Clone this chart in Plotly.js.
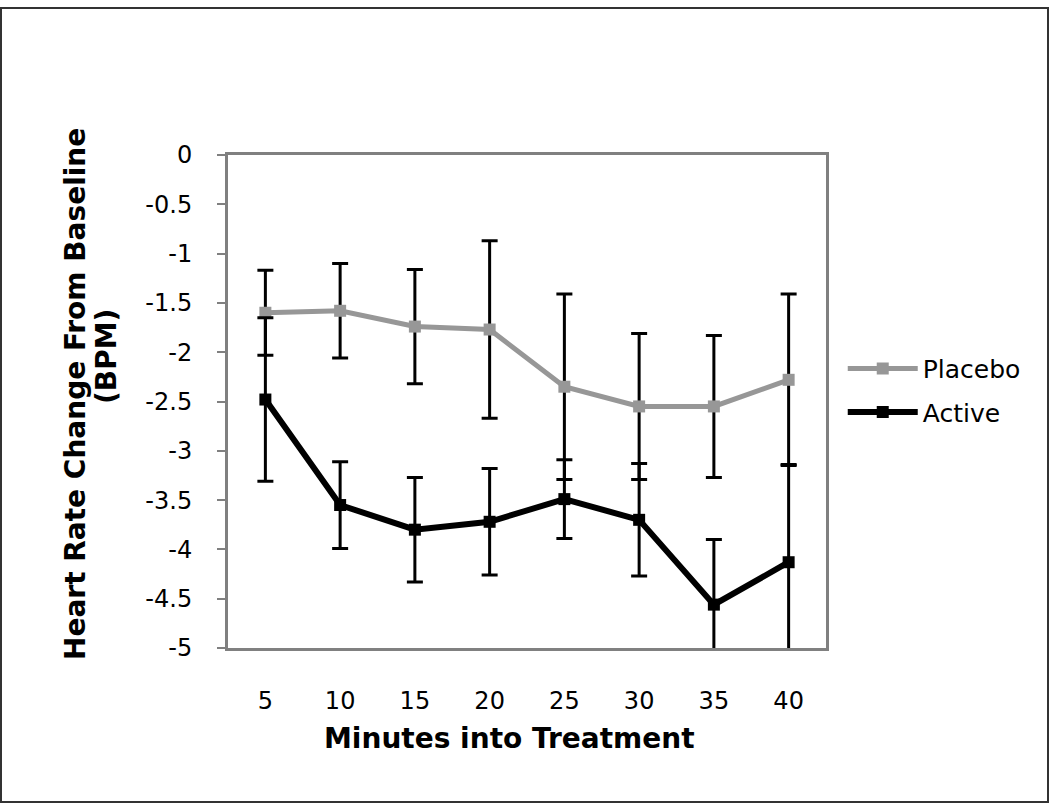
<!DOCTYPE html>
<html>
<head>
<meta charset="utf-8">
<script src="https://cdn.plot.ly/plotly-3.0.1.min.js"></script>
<style>
  html, body { margin: 0; padding: 0; background: #fff; }
  #plot { position: absolute; left: 0; top: 0; width: 1050px; height: 803px; }
  #frame { position: absolute; left: 0; top: 7px; width: 1049px; height: 796px; box-sizing: border-box; border: 2px solid #333; pointer-events: none; }
</style>
</head>
<body>
<div id="plot"></div>
<div id="frame"></div>
<script>
// Data
const minutes = ["5", "10", "15", "20", "25", "30", "35", "40"];
const placebo = [-1.60, -1.58, -1.74, -1.77, -2.35, -2.55, -2.55, -2.28];
const placeboErr = [0.43, 0.48, 0.58, 0.90, 0.94, 0.74, 0.72, 0.87];
const active = [-2.48, -3.55, -3.80, -3.72, -3.49, -3.70, -4.56, -4.13];
const activeErr = [0.83, 0.44, 0.53, 0.54, 0.40, 0.57, 0.66, 0.99];
const yTickVals = [0, -0.5, -1, -1.5, -2, -2.5, -3, -3.5, -4, -4.5, -5];
const yTickText = ["0", "-0.5", "-1", "-1.5", "-2", "-2.5", "-3", "-3.5", "-4", "-4.5", "-5"];
const xTitle = "Minutes into Treatment";
const yTitleLines = ["Heart Rate Change From Baseline", "(BPM)"];

const FONT = "DejaVu Sans, Verdana, sans-serif";

const traces = [
  {
    x: minutes, y: placebo, name: "Placebo", type: "scatter", mode: "lines+markers",
    legendgroup: "p",
    line: { color: "#979797", width: 5 },
    marker: { symbol: "square", size: 12, color: "#979797" },
    error_y: { type: "data", array: placeboErr, visible: true, color: "#000", thickness: 3, width: 8 }
  },
  {
    x: minutes, y: active, name: "Active", type: "scatter", mode: "lines+markers",
    legendgroup: "a",
    line: { color: "#000", width: 6 },
    marker: { symbol: "square", size: 12, color: "#000" },
    error_y: { type: "data", array: activeErr, visible: true, color: "#000", thickness: 3, width: 8 }
  }
];

const titleFont = { family: FONT, color: "#000", weight: "bold" };

const layout = {
  width: 1050, height: 803,
  margin: { l: 228, r: 224, t: 155, b: 155 },
  paper_bgcolor: "#fff", plot_bgcolor: "#fff",
  font: { family: FONT, color: "#000", size: 24 },
  showlegend: true,
  legend: {
    x: 1.028, y: 0.613, xanchor: "left", yanchor: "top",
    font: { family: FONT, size: 25, color: "#000" },
    bgcolor: "rgba(0,0,0,0)", traceorder: "grouped", tracegroupgap: 8,
    itemwidth: 70
  },
  xaxis: {
    type: "category",
    range: [-0.5, 7.5],
    showgrid: false, zeroline: false,
    showline: true, mirror: true, linecolor: "#808080", linewidth: 3,
    ticks: "", ticklabelstandoff: 29,
    tickfont: { family: FONT, size: 24, color: "#000" }
  },
  yaxis: {
    range: [-5, 0],
    tickvals: yTickVals, ticktext: yTickText,
    showgrid: false, zeroline: false,
    showline: true, mirror: true, linecolor: "#808080", linewidth: 3,
    ticks: "outside", ticklen: 8, tickwidth: 2, tickcolor: "#808080",
    ticklabelstandoff: 20,
    tickfont: { family: FONT, size: 24, color: "#000" }
  },
  annotations: [
    { text: xTitle, xref: "paper", yref: "paper", x: (509 - 228) / 598, y: -(738 - 648) / 493,
      xanchor: "center", yanchor: "middle", showarrow: false, font: Object.assign({ size: 28 }, titleFont) },
    { text: yTitleLines[0], xref: "paper", yref: "paper", x: (75 - 228) / 598, y: 1 - (394 - 155) / 493,
      xanchor: "center", yanchor: "middle", textangle: -90, showarrow: false, font: Object.assign({ size: 28 }, titleFont) },
    { text: yTitleLines[1], xref: "paper", yref: "paper", x: (106 - 228) / 598, y: 1 - (357 - 155) / 493,
      xanchor: "center", yanchor: "middle", textangle: -90, showarrow: false, font: Object.assign({ size: 28 }, titleFont) }
  ]
};

Plotly.newPlot("plot", traces, layout, { displayModeBar: false, staticPlot: true });
</script>
</body>
</html>
